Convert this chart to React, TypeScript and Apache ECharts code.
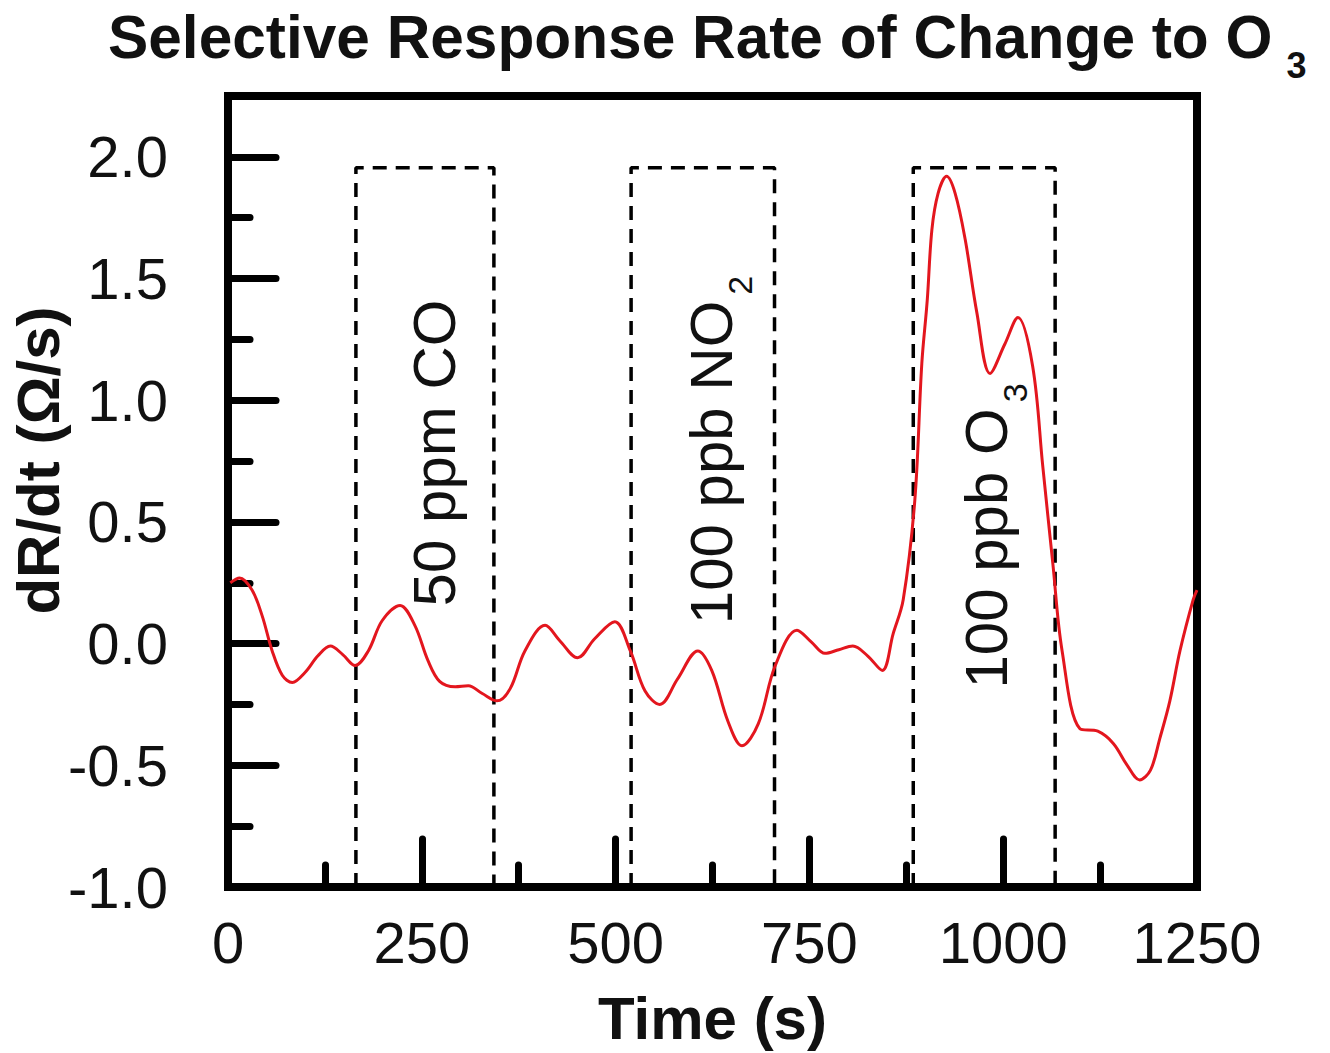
import React, { useEffect, useRef } from "react";
import * as echarts from "echarts";

// ---- data ----
const timeS = [
  3, 15, 31, 44, 57, 70, 83, 99, 116, 132, 148, 164, 181, 199, 222, 241, 258, 273, 293, 310,
  328, 347, 364, 383, 409, 428, 451, 473, 499, 519, 538, 557, 580, 606, 624, 645, 663, 684, 706, 734,
  753, 770, 788, 806, 825, 844, 858, 871, 886, 895, 902, 908, 916, 927, 938, 951, 966, 983, 1002, 1019,
  1038, 1051, 1064, 1076, 1099, 1122, 1142, 1160, 1176, 1190, 1202, 1215, 1228, 1245, 1250,
];
const dRdt = [
  0.25, 0.27, 0.22, 0.115, -0.03, -0.13, -0.16, -0.12, -0.05, -0.01, -0.045, -0.09, -0.03, 0.095, 0.157, 0.075, -0.07, -0.155, -0.177, -0.173,
  -0.205, -0.235, -0.185, -0.03, 0.075, 0.012, -0.058, 0.02, 0.09, -0.03, -0.195, -0.25, -0.145, -0.03, -0.11, -0.32, -0.42, -0.33, -0.09, 0.055,
  0.005, -0.04, -0.025, -0.01, -0.05, -0.11, 0.04, 0.18, 0.59, 1.15, 1.41, 1.7, 1.85, 1.92, 1.85, 1.66, 1.36, 1.11, 1.23, 1.34,
  1.14, 0.73, 0.33, -0.03, -0.35, -0.36, -0.41, -0.5, -0.56, -0.52, -0.39, -0.235, -0.03, 0.18, 0.22,
];

// gas exposure windows (start, end in s) and the dashed box top (dR/dt units)
const windowStart = [165, 520, 884];
const windowEnd = [343, 705, 1067];
const boxTop = 1.955;
const boxBottom = -1;

const xMajorTicks = [0, 250, 500, 750, 1000, 1250];
const xMinorStep = 125;
const yMajorTicks = [-1, -0.5, 0, 0.5, 1, 1.5, 2];
const yMinorStep = 0.25;

const FONT = "'Liberation Sans', Arial, Helvetica, sans-serif";
const INK = "#111";

export default function App() {
  const ref = useRef<HTMLDivElement>(null);

  useEffect(() => {
    if (!ref.current) return;
    const chart = echarts.init(ref.current, undefined, { renderer: "svg" });

    const xMin = xMajorTicks[0];
    const xMax = xMajorTicks[xMajorTicks.length - 1];
    const yMin = yMajorTicks[0];
    const yMax = 2.25;

    const tickStyle = { width: 7, color: "#000", cap: "round" };

    const boxSeries = windowStart.map((s, i) => ({
      type: "line",
      name: "window" + i,
      xAxisIndex: 0,
      yAxisIndex: 0,
      data: [
        [s, boxBottom],
        [s, boxTop],
        [windowEnd[i], boxTop],
        [windowEnd[i], boxBottom],
      ],
      showSymbol: false,
      symbol: "none",
      silent: true,
      z: 2,
      lineStyle: { color: "#000", width: 3.5, type: [14, 9] },
    }));

    const labelRich = {
      m: { fontSize: 60, lineHeight: 60, verticalAlign: "top", fontFamily: FONT, color: INK },
      s: { fontSize: 34, lineHeight: 34, verticalAlign: "top", padding: [42, 0, 0, 6], fontFamily: FONT, color: INK },
    };

    chart.setOption({
      animation: false,
      backgroundColor: "#fff",
      title: {
        text: "{a|Selective Response Rate of Change to O}{s|3}",
        left: 108,
        top: 7,
        padding: 0,
        textStyle: {
          rich: {
            a: { fontSize: 60.4, fontWeight: "bold", fontFamily: FONT, color: INK, lineHeight: 60, verticalAlign: "top" },
            s: { fontSize: 36, fontWeight: "bold", fontFamily: FONT, color: INK, lineHeight: 36, verticalAlign: "top", padding: [40, 0, 0, 14] },
          },
        },
      },
      grid: {
        left: 228,
        right: 133,
        top: 96,
        bottom: 166,
        show: true,
        borderColor: "#000",
        borderWidth: 8,
        backgroundColor: "transparent",
        containLabel: false,
        outerBoundsMode: "none",
      },
      xAxis: [
        {
          type: "value",
          position: "bottom",
          min: xMin,
          max: xMax,
          interval: xMajorTicks[1] - xMajorTicks[0],
          axisLine: { show: false, onZero: false },
          axisTick: { show: true, inside: true, length: 48, lineStyle: tickStyle },
          axisLabel: {
            margin: 26,
            fontSize: 58,
            color: INK,
            fontFamily: FONT,
            formatter: (v: number) => (xMajorTicks.includes(v) ? String(v) : ""),
          },
          splitLine: { show: false },
          name: "Time (s)",
          nameLocation: "middle",
          nameGap: 101,
          nameMoveOverlap: false,
          nameTextStyle: { fontSize: 60, fontWeight: "bold", fontFamily: FONT, color: INK },
        },
        {
          type: "value",
          position: "bottom",
          min: xMin,
          max: xMax,
          interval: xMinorStep,
          axisLine: { show: false, onZero: false },
          axisTick: { show: true, inside: true, length: 22, lineStyle: tickStyle },
          axisLabel: { show: false },
          splitLine: { show: false },
        },
      ],
      yAxis: [
        {
          type: "value",
          position: "left",
          min: yMin,
          max: yMax,
          interval: yMajorTicks[1] - yMajorTicks[0],
          axisLine: { show: false, onZero: false },
          axisTick: { show: true, inside: true, length: 48, lineStyle: tickStyle },
          axisLabel: {
            margin: 60,
            fontSize: 58,
            color: INK,
            fontFamily: FONT,
            formatter: (v: number) => (yMajorTicks.some((t) => Math.abs(t - v) < 1e-9) ? v.toFixed(1) : ""),
          },
          splitLine: { show: false },
          name: "dR/dt (\u03A9/s)",
          nameLocation: "middle",
          nameRotate: 90,
          nameGap: 160,
          nameMoveOverlap: false,
          nameTextStyle: { fontSize: 60, fontWeight: "bold", fontFamily: FONT, color: INK, padding: [0, 0, 0, 62] },
        },
        {
          type: "value",
          position: "left",
          min: yMin,
          max: yMax,
          interval: yMinorStep,
          axisLine: { show: false, onZero: false },
          axisTick: { show: true, inside: true, length: 22, lineStyle: tickStyle },
          axisLabel: { show: false },
          splitLine: { show: false },
        },
      ],
      series: [
        ...boxSeries,
        {
          type: "line",
          name: "dR/dt",
          xAxisIndex: 0,
          yAxisIndex: 0,
          data: timeS.map((t, i) => [t, dRdt[i]]),
          smooth: 0.35,
          showSymbol: false,
          symbol: "none",
          z: 3,
          lineStyle: { color: "#e3161e", width: 3 },
        },
      ],
      graphic: [
        {
          type: "text",
          x: 434,
          y: 453,
          rotation: Math.PI / 2,
          z: 10,
          style: {
            text: "50 ppm CO",
            fontSize: 60,
            fontFamily: FONT,
            fill: INK,
            align: "center",
            verticalAlign: "middle",
          },
        },
        {
          type: "text",
          x: 711,
          y: 450,
          rotation: Math.PI / 2,
          z: 10,
          style: {
            text: "{m|100 ppb NO}{s|2}",
            rich: labelRich,
            fill: INK,
            align: "center",
            verticalAlign: "middle",
          },
        },
        {
          type: "text",
          x: 986,
          y: 536,
          rotation: Math.PI / 2,
          z: 10,
          style: {
            text: "{m|100 ppb O}{s|3}",
            rich: labelRich,
            fill: INK,
            align: "center",
            verticalAlign: "middle",
          },
        },
      ],
    });

    return () => chart.dispose();
  }, []);

  return (
    <div
      ref={ref}
      style={{ position: "fixed", left: 0, top: 0, width: 1330, height: 1053, background: "#fff" }}
    />
  );
}
